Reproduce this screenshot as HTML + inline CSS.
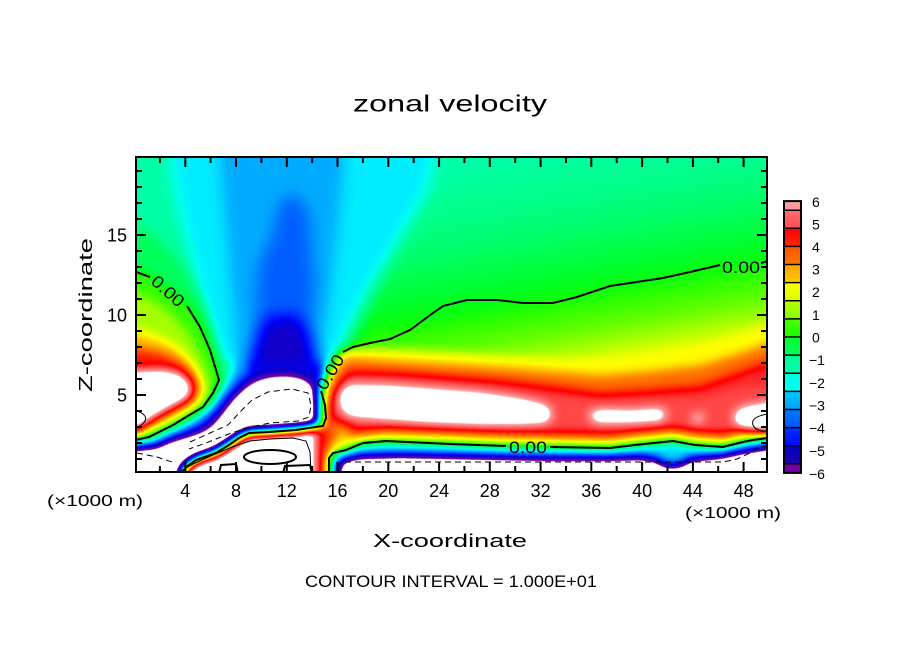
<!DOCTYPE html>
<html><head><meta charset="utf-8"><style>
html,body{margin:0;padding:0;background:#fff;}
svg{display:block;font-family:"Liberation Sans",Arial,sans-serif;}
</style></head><body>
<svg width="904" height="654" viewBox="0 0 904 654" xmlns="http://www.w3.org/2000/svg">
<defs>
<filter id="cm" color-interpolation-filters="sRGB">
<feComponentTransfer>
<feFuncR type="table" tableValues="1 1 1 1 .44 .38 .22 .09 .03 0 0 0 0 0 0 0 0 0 0 0 0 0 0 0 0 0 0 0 .03 .19 .31 .44 .56 .69 .82 .91 1 1 1 1 1 1 1 1 1 1 1 1 1 1 1 1 1 1 1 1 1"/>
<feFuncG type="table" tableValues="1 1 1 1 0 0 .03 0 0 0 .06 .16 .25 .35 .44 .53 .63 .72 .85 .94 1 1 1 1 1 1 1 1 1 1 1 1 1 1 1 1 1 .88 .77 .66 .56 .47 .38 .28 .19 .06 0 .13 .25 .35 .44 .53 .61 1 1 1 1"/>
<feFuncB type="table" tableValues="1 1 1 1 .66 .69 .72 .78 .85 .94 1 1 1 1 1 1 1 1 1 1 .93 .82 .71 .61 .53 .44 .31 .19 .06 0 0 0 0 0 0 0 0 0 0 0 0 0 0 0 0 0 0 .13 .25 .35 .44 .53 .61 1 1 1 1"/>
</feComponentTransfer>
</filter>
<filter id="bA" color-interpolation-filters="sRGB"><feGaussianBlur stdDeviation="8"/></filter>
<filter id="bB" color-interpolation-filters="sRGB"><feGaussianBlur stdDeviation="5"/></filter>
<clipPath id="pc"><rect x="137" y="158" width="630" height="314"/></clipPath>
<linearGradient id="gA" gradientUnits="userSpaceOnUse" x1="590" y1="150" x2="627" y2="370">
<stop offset="0" stop-color="#676767"/>
<stop offset="0.221" stop-color="#6e6e6e"/>
<stop offset="0.442" stop-color="#777777"/>
<stop offset="0.632" stop-color="#808080"/>
<stop offset="0.796" stop-color="#8c8c8c"/>
<stop offset="0.884" stop-color="#979797"/>
<stop offset="1" stop-color="#a6a6a6"/>
</linearGradient>
<linearGradient id="c1" x1="0" y1="0" x2="0" y2="1"><stop offset="0" stop-color="#ffa4a4"/><stop offset="1" stop-color="#ff9494"/></linearGradient>
<linearGradient id="c2" x1="0" y1="0" x2="0" y2="1"><stop offset="0" stop-color="#ff7070"/><stop offset="1" stop-color="#ff4a4a"/></linearGradient>
<linearGradient id="c3" x1="0" y1="0" x2="0" y2="1"><stop offset="0" stop-color="#ff0000"/><stop offset="1" stop-color="#ff2a00"/></linearGradient>
<linearGradient id="c4" x1="0" y1="0" x2="0" y2="1"><stop offset="0" stop-color="#ff5000"/><stop offset="1" stop-color="#ff7800"/></linearGradient>
<linearGradient id="c5" x1="0" y1="0" x2="0" y2="1"><stop offset="0" stop-color="#ffa000"/><stop offset="1" stop-color="#ffcc00"/></linearGradient>
<linearGradient id="c6" x1="0" y1="0" x2="0" y2="1"><stop offset="0" stop-color="#ffff00"/><stop offset="1" stop-color="#d8ff00"/></linearGradient>
<linearGradient id="c7" x1="0" y1="0" x2="0" y2="1"><stop offset="0" stop-color="#b8ff00"/><stop offset="1" stop-color="#80ff00"/></linearGradient>
<linearGradient id="c8" x1="0" y1="0" x2="0" y2="1"><stop offset="0" stop-color="#50ff00"/><stop offset="1" stop-color="#10ff00"/></linearGradient>
<linearGradient id="c9" x1="0" y1="0" x2="0" y2="1"><stop offset="0" stop-color="#00ff28"/><stop offset="1" stop-color="#00ff60"/></linearGradient>
<linearGradient id="c10" x1="0" y1="0" x2="0" y2="1"><stop offset="0" stop-color="#00ff90"/><stop offset="1" stop-color="#00ffb0"/></linearGradient>
<linearGradient id="c11" x1="0" y1="0" x2="0" y2="1"><stop offset="0" stop-color="#00ffe0"/><stop offset="1" stop-color="#00fff8"/></linearGradient>
<linearGradient id="c12" x1="0" y1="0" x2="0" y2="1"><stop offset="0" stop-color="#00c8ff"/><stop offset="1" stop-color="#00a0ff"/></linearGradient>
<linearGradient id="c13" x1="0" y1="0" x2="0" y2="1"><stop offset="0" stop-color="#0078ff"/><stop offset="1" stop-color="#0058ff"/></linearGradient>
<linearGradient id="c14" x1="0" y1="0" x2="0" y2="1"><stop offset="0" stop-color="#0030ff"/><stop offset="1" stop-color="#0008ff"/></linearGradient>
<linearGradient id="c15" x1="0" y1="0" x2="0" y2="1"><stop offset="0" stop-color="#0000c8"/><stop offset="1" stop-color="#2000a8"/></linearGradient>
</defs>

<!-- FIELD -->
<g clip-path="url(#pc)">
<g filter="url(#cm)">
<g filter="url(#bA)">
<rect x="80" y="100" width="760" height="440" fill="url(#gA)"/>
<polygon fill="#565656" points="165,100 448,100 428,190 398,245 372,290 355,325 342,355 330,390 236,390 214,350 198,295 184,235 172,175"/>
<polygon fill="#4b4b4b" points="218,100 348,100 342,190 336,250 330,300 322,345 316,390 245,390 236,345 231,295 226,235 220,170"/>
<polygon fill="#3c3c3c" points="281,200 297,195 308,212 311,250 314,290 311,330 308,390 254,390 256,330 257,290 261,258 272,238 277,215"/>
<polygon fill="#212121" points="266,318 298,316 312,340 320,390 246,390 254,345"/>
</g>
<g filter="url(#bB)">
<polygon fill="#757575" points="90,215 136,222 155,236 172,255 188,278 200,300 210,325 215,350 222,381 216,395 206,409 189,419 175,427 161,434 151,439 136,442 90,443"/>
<polygon fill="#858585" points="90,268 136,270 151,275 171,290 190,305 203,326 213,350 222,381 216,395 206,409 189,419 175,427 161,434 151,439 136,442 90,443"/>
<polygon fill="#959595" points="90,292 136,294 155,302 172,315 187,332 199,352 208,375 211,390 205,403 191,413 175,422 160,429 148,434 136,437 90,438"/>
<polygon fill="#adadad" points="90,328 136,330 156,336 176,346 190,360 200,376 204,390 199,402 186,411 171,419 157,426 146,431 136,435 90,436"/>
<polygon fill="#cccccc" points="90,346 136,348 160,352 178,360 192,372 198,386 195,398 184,406 169,414 155,422 143,429 136,433 90,434"/>
<polygon fill="#ffffff" points="90,370 136,370 163,369 180,373 190,382 192,392 186,400 172,407 158,415 146,423 136,430 90,432"/>
<polygon fill="#6a6a6a" points="219,362 222,381 216,395 206,409 189,419 175,427 161,434 151,439 136,442 90,443 90,485 320,485 320,362"/>
<polygon fill="#494949" points="233,362 233,369 228,382 220,394 210,408 194,420 181,427 164,435 152,440 136,444 90,445 90,485 320,485 320,362"/>
<polygon fill="#282828" points="248,362 248,372 237,383 226,396 216,409 202,422 188,430 168,437 156,444 136,446 90,447 90,485 320,485 320,362"/>
<polygon fill="#000000" points="90,449 136,448 157,446 168,441 186,436 203,431 213,424 223,411 233,398 246,386 256,380 270,376 286,375 300,377 309,381 315,390 318,405 318,427 296,430 269,432 249,433 239,438 229,445 216,453 196,460 186,467 183,473 182,485 90,485"/>
<polygon fill="#a4a4a4" points="342,350 380,349 420,351 470,354 520,357 570,360 620,358 670,351 710,344 740,334 768,325 840,318 840,485 321,485 321,410 323,390 330,368"/>
<polygon fill="#bdbdbd" points="346,358 400,362 450,365 500,368 550,372 600,376 650,372 700,366 740,354 768,344 840,338 840,485 325,485 325,410 328,392 335,373"/>
<polygon fill="#d7d7d7" points="350,370 400,372 450,376 500,380 550,386 600,393 650,390 700,386 740,372 768,362 840,356 840,485 329,485 329,410 332,395 340,380"/>
<polygon fill="#dcdcdc" points="340,384 352,377 400,378 450,382 500,386 550,395 600,400 650,398 700,398 740,388 768,385 840,380 840,440 768,437 700,431 650,429 600,429 560,429 500,428 440,428 390,426 345,424 337,415 336,400"/>
<polygon fill="#ffffff" points="342,388 352,384 390,385 430,388 480,392 520,398 545,404 553,412 548,423 520,425 480,425 430,423 390,420 352,417 341,411 338,398"/>
<polygon fill="#ffffff" points="587,413 600,409 630,410 660,408 668,413 662,421 630,423 595,423"/>
<polygon fill="#ffffff" points="692,416 700,413 705,418 700,422 693,421"/>
<polygon fill="#ffffff" points="733,414 742,407 768,402 840,400 840,432 768,432 745,430 735,424"/>
<polygon fill="#b6b6b6" points="324,424 336,422 352,428 350,437 340,440 328,445 322,440"/>
<polygon fill="#cccccc" points="314,426 328,425 334,431 331,442 327,452 325,485 314,485"/>
<polygon fill="#ffffff" points="318,427 296,430 269,432 249,433 239,438 229,445 216,453 196,460 186,467 183,473 182,485 316,485 316,432"/>
<polygon fill="#a4a4a4" points="326,485 327,455 331,444 340,437 363,433 386,431 450,433 500,435 550,436 610,437 635,434 673,430 695,434 723,436 743,431 768,433 840,432 840,485"/>
<polygon fill="#525252" points="330,485 330,460 334,454 346,450 363,444 386,442 450,444 500,446 550,447 610,448 635,445 673,441 695,445 723,447 743,442 768,438 840,437 840,485"/>
<polygon fill="#000000" points="337,485 337,466 342,459 360,455 400,454 450,455 500,456 550,457 610,457 640,456 655,458 668,465 680,464 690,458 720,455 743,450 768,446 840,445 840,485"/>
</g>
</g>

<!-- contours -->
<g fill="none" stroke="#000">
<path stroke-width="2" d="M136,272 L150,277 M187,306 L200,327 L210,350 L219,380 L213,393 L203,407 L186,417 L173,425 L159,432 L149,437 L136,440"/>
<path stroke-width="2" d="M768,261 L761,263 M720,265 L690,272 L663,278 L630,283 L610,286 L577,297 L553,303 L523,303 L497,300 L467,300 L443,306 L433,313 L410,330 L390,339 L370,343 L353,347 L343,352 M321,391 L325,405 L326,418 L323,426 L309,428 L296,430 L269,432 L249,433 L239,438 L229,445 L216,453 L196,460 L186,467 L183,473"/>
<path stroke-width="2" d="M768,438 L753,440 L743,442 L723,447 L695,445 L673,441 L635,445 L610,448 L550,447 M506,446 L450,444 L386,441 L363,443 L346,450 L333,453 L329,458 L329,473"/>
<path stroke-width="1" stroke-dasharray="6 4" d="M190,442 L210,433 L228,425 L240,412 L252,400 L268,392 L292,389 L308,393 L311,405 L309,417 L298,421 L270,423 L246,428 L226,435 L206,443 L189,449"/>
<path stroke-width="1" stroke-dasharray="6 4" d="M137,453 L157,457 L175,463"/>
<path stroke-width="1" stroke-dasharray="6 4" d="M345,462 L723,462 L737,459 L750,453 L757,448 L768,445"/>
<path stroke-width="1" d="M179,472 L195,463 L213,455 L232,447 L250,441 L270,439 L293,438 L306,441 L310,452 L311,472"/>
<ellipse cx="270" cy="457" rx="26" ry="7" stroke-width="2"/>
<path stroke-width="2" d="M219,473 L221,465 L236,464 L238,473 M283,473 L285,466 L310,465 L312,473"/>
<path stroke-width="1" d="M768,414 Q750,417 753,425 Q756,432 768,431"/>
<path stroke-width="1" d="M137,411 Q148,415 145,421 Q142,426 137,427"/>
</g>
<g font-size="17" fill="#000">
<text transform="translate(168,291) rotate(42)" text-anchor="middle" dy="6" textLength="38" lengthAdjust="spacingAndGlyphs">0.00</text>
<text transform="translate(330,372) rotate(-59)" text-anchor="middle" dy="6" textLength="38" lengthAdjust="spacingAndGlyphs">0.00</text>
<text x="741" y="273" text-anchor="middle" textLength="38" lengthAdjust="spacingAndGlyphs">0.00</text>
<text x="528" y="453" text-anchor="middle" textLength="38" lengthAdjust="spacingAndGlyphs">0.00</text>
</g>
</g>

<!-- frame & ticks -->
<rect x="136" y="157" width="631" height="315" fill="none" stroke="#000" stroke-width="2"/>
<path stroke="#000" stroke-width="2" fill="none" d="
M185.3,158v9 M236,158v9 M286.8,158v9 M337.5,158v9 M388.3,158v9 M439.1,158v9 M489.8,158v9 M540.6,158v9 M591.3,158v9 M642.1,158v9 M692.9,158v9 M743.6,158v9
M159.9,158v5 M210.6,158v5 M261.4,158v5 M312.2,158v5 M362.9,158v5 M413.7,158v5 M464.4,158v5 M515.2,158v5 M566,158v5 M616.7,158v5 M667.5,158v5 M718.2,158v5
M185.3,471v-9 M236,471v-9 M286.8,471v-9 M337.5,471v-9 M388.3,471v-9 M439.1,471v-9 M489.8,471v-9 M540.6,471v-9 M591.3,471v-9 M642.1,471v-9 M692.9,471v-9 M743.6,471v-9
M159.9,471v-5 M210.6,471v-5 M261.4,471v-5 M312.2,471v-5 M362.9,471v-5 M413.7,471v-5 M464.4,471v-5 M515.2,471v-5 M566,471v-5 M616.7,471v-5 M667.5,471v-5 M718.2,471v-5
M137,395h9 M137,315h9 M137,235h9
M137,459h5 M137,443h5 M137,427h5 M137,411h5 M137,379h5 M137,363h5 M137,347h5 M137,331h5 M137,299h5 M137,283h5 M137,267h5 M137,251h5 M137,219h5 M137,203h5 M137,187h5 M137,171h5
M766,395h-9 M766,315h-9 M766,235h-9
M766,459h-5 M766,443h-5 M766,427h-5 M766,411h-5 M766,379h-5 M766,363h-5 M766,347h-5 M766,331h-5 M766,299h-5 M766,283h-5 M766,267h-5 M766,251h-5 M766,219h-5 M766,203h-5 M766,187h-5 M766,171h-5"/>

<!-- tick labels -->
<g font-size="18" fill="#000" text-anchor="middle">
<text x="185.3" y="497">4</text><text x="236" y="497">8</text><text x="286.8" y="497">12</text><text x="337.5" y="497">16</text>
<text x="388.3" y="497">20</text><text x="439.1" y="497">24</text><text x="489.8" y="497">28</text><text x="540.6" y="497">32</text>
<text x="591.3" y="497">36</text><text x="642.1" y="497">40</text><text x="692.9" y="497">44</text><text x="743.6" y="497">48</text>
</g>
<g font-size="18" fill="#000" text-anchor="end">
<text x="127" y="241.5">15</text><text x="127" y="321.5">10</text><text x="127" y="401.5">5</text>
</g>

<!-- texts -->
<text x="353" y="111.5" font-size="23" textLength="194" lengthAdjust="spacingAndGlyphs">zonal velocity</text>
<text x="373" y="547" font-size="18.5" textLength="154" lengthAdjust="spacingAndGlyphs">X-coordinate</text>
<text transform="translate(92,315) rotate(-90)" text-anchor="middle" font-size="18.5" textLength="154" lengthAdjust="spacingAndGlyphs">Z-coordinate</text>
<text x="305" y="587" font-size="17" textLength="292" lengthAdjust="spacingAndGlyphs">CONTOUR INTERVAL = 1.000E+01</text>
<text x="47" y="506" font-size="15.5" textLength="96" lengthAdjust="spacingAndGlyphs">(×1000 m)</text>
<text x="685" y="518" font-size="15.5" textLength="96" lengthAdjust="spacingAndGlyphs">(×1000 m)</text>

<!-- colorbar -->
<g>
<rect x="784" y="201.1" width="17" height="9.1" fill="url(#c1)"/>
<rect x="784" y="210.2" width="17" height="18.1" fill="url(#c2)"/>
<rect x="784" y="228.3" width="17" height="18.1" fill="url(#c3)"/>
<rect x="784" y="246.4" width="17" height="18.1" fill="url(#c4)"/>
<rect x="784" y="264.5" width="17" height="18.1" fill="url(#c5)"/>
<rect x="784" y="282.6" width="17" height="18.2" fill="url(#c6)"/>
<rect x="784" y="300.8" width="17" height="18.1" fill="url(#c7)"/>
<rect x="784" y="318.9" width="17" height="18.1" fill="url(#c8)"/>
<rect x="784" y="337" width="17" height="18.1" fill="url(#c9)"/>
<rect x="784" y="355.1" width="17" height="18.1" fill="url(#c10)"/>
<rect x="784" y="373.2" width="17" height="18.2" fill="url(#c11)"/>
<rect x="784" y="391.4" width="17" height="18.1" fill="url(#c12)"/>
<rect x="784" y="409.5" width="17" height="18.1" fill="url(#c13)"/>
<rect x="784" y="427.6" width="17" height="18.1" fill="url(#c14)"/>
<rect x="784" y="445.7" width="17" height="18.1" fill="url(#c15)"/>
<rect x="784" y="463.8" width="17" height="9.1" fill="#7000a8"/>
<path stroke="#000" stroke-width="1.5" fill="none" d="M784,210.2h17 M784,228.3h17 M784,246.4h17 M784,264.5h17 M784,282.6h17 M784,300.8h17 M784,318.9h17 M784,337h17 M784,355.1h17 M784,373.2h17 M784,391.4h17 M784,409.5h17 M784,427.6h17 M784,445.7h17 M784,463.8h17"/>
<rect x="784" y="201.1" width="17" height="271.8" fill="none" stroke="#000" stroke-width="2"/>
</g>
<g font-size="14" fill="#000">
<text x="812" y="207">6</text>
<text x="812" y="229.5">5</text>
<text x="812" y="252">4</text>
<text x="812" y="274.5">3</text>
<text x="812" y="297">2</text>
<text x="812" y="320">1</text>
<text x="812" y="342.5">0</text>
<text x="809" y="365">−1</text>
<text x="809" y="388">−2</text>
<text x="809" y="410.5">−3</text>
<text x="809" y="433">−4</text>
<text x="809" y="456">−5</text>
<text x="809" y="479">−6</text>
</g>
</svg>
</body></html>
